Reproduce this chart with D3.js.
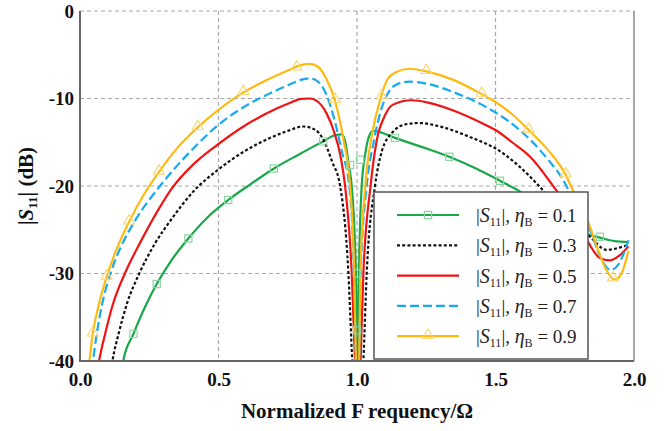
<!DOCTYPE html>
<html>
<head>
<meta charset="utf-8">
<script src="https://cdnjs.cloudflare.com/ajax/libs/d3/7.8.5/d3.min.js"></script>
<style>
  html, body { margin: 0; padding: 0; background: #fff; }
  svg { display: block; }
</style>
</head>
<body>
<div id="chart"></div>
<script>
// values: [normalized frequency, |S11| dB]
const etaValues = [0.1, 0.3, 0.5, 0.7, 0.9];

const s11Eta01 = [
  [0.152,-41],[0.156,-40],[0.193,-36.9],[0.235,-33.8],[0.277,-31.2],[0.33,-28.5],[0.391,-26],[0.46,-23.6],
  [0.535,-21.6],[0.62,-19.7],[0.70,-18],[0.79,-16.4],[0.878,-14.9],[0.92,-14.2],[0.945,-14.1],[0.96,-15.3],
  [0.97,-17.6],[0.981,-20],[0.996,-30],[1.001,-40],[1.002,-46],
  [1.003,-46],[1.004,-40],[1.007,-30],[1.017,-20],[1.03,-16.3],[1.045,-14.2],[1.059,-13.7],[1.137,-14.5],
  [1.23,-15.5],[1.333,-16.65],[1.43,-18],[1.516,-19.4],[1.582,-20.5],[1.7,-23],[1.80,-25],[1.841,-25.6],
  [1.877,-25.9],[1.93,-26.3],[1.98,-26.4]
];
const s11Eta03 = [
  [0.112,-41],[0.117,-40],[0.14,-36.8],[0.17,-33.4],[0.214,-30],[0.27,-26.6],[0.33,-23.8],[0.41,-20.6],
  [0.5,-18.1],[0.59,-16.1],[0.68,-14.6],[0.75,-13.7],[0.806,-13.2],[0.85,-13.6],[0.88,-14.8],[0.91,-17.2],
  [0.939,-20],[0.969,-30],[0.983,-40],[0.995,-46],
  [1.011,-46],[1.023,-40],[1.035,-30],[1.065,-20],[1.09,-16],[1.13,-13.8],[1.17,-13],[1.221,-12.8],
  [1.3,-13.2],[1.4,-14.3],[1.45,-14.95],[1.5,-15.7],[1.58,-17.6],[1.66,-20.1],[1.75,-23.5],[1.841,-25.8],
  [1.9,-27.3],[1.94,-27.1],[1.98,-26.7]
];
const s11Eta05 = [
  [0.064,-41],[0.069,-40],[0.09,-37],[0.12,-33.4],[0.162,-30],[0.22,-26.3],[0.283,-22.7],[0.331,-20.3],
  [0.41,-17.5],[0.5,-15.2],[0.59,-13.2],[0.68,-11.6],[0.75,-10.6],[0.80,-10.05],[0.83,-10],[0.86,-10.4],
  [0.89,-11.7],[0.915,-13.6],[0.94,-16.5],[0.957,-20],[0.981,-30],[0.993,-40],[0.999,-46],
  [1.007,-46],[1.013,-40],[1.023,-30],[1.049,-20],[1.07,-15],[1.1,-12],[1.13,-10.7],[1.197,-10.2],
  [1.26,-10.5],[1.35,-11.4],[1.45,-12.8],[1.5,-13.6],[1.56,-15],[1.625,-16.65],[1.72,-20.5],[1.79,-23.5],
  [1.84,-26.7],[1.875,-28.2],[1.913,-28.5],[1.945,-28],[1.98,-26.9]
];
const s11Eta07 = [
  [0.043,-41],[0.047,-40],[0.06,-37],[0.08,-33.5],[0.11,-30],[0.15,-26.8],[0.2,-23.9],[0.289,-20],
  [0.35,-17.7],[0.425,-15.2],[0.5,-13],[0.59,-11],[0.68,-9.5],[0.75,-8.5],[0.80,-7.85],[0.83,-7.7],[0.86,-8.1],
  [0.89,-9.6],[0.915,-12],[0.945,-16],[0.972,-20],[0.989,-30],[0.996,-40],[1.0,-46],
  [1.004,-46],[1.008,-40],[1.013,-30],[1.035,-20],[1.06,-15],[1.09,-11],[1.12,-9],[1.15,-8.3],[1.19,-8.07],
  [1.25,-8.3],[1.35,-9.3],[1.45,-10.7],[1.5,-11.6],[1.56,-12.9],[1.625,-14.7],[1.69,-17],[1.744,-19.3],
  [1.78,-21.5],[1.841,-25],[1.88,-28.2],[1.916,-29.6],[1.945,-28.9],[1.98,-26.2]
];
const s11Eta09 = [
  [0.030,-41],[0.034,-40],[0.046,-36.9],[0.070,-33.3],[0.096,-30.4],[0.135,-27],[0.177,-24.1],[0.23,-21],
  [0.285,-18.4],[0.35,-15.7],[0.425,-13.3],[0.5,-11.3],[0.59,-9.3],[0.68,-7.8],[0.75,-6.8],[0.80,-6.15],
  [0.83,-6.05],[0.86,-6.4],[0.89,-7.8],[0.92,-10.2],[0.95,-14.5],[0.975,-20],[0.99,-30],[0.996,-40],[1.0,-46],
  [1.004,-46],[1.008,-40],[1.012,-30],[1.03,-20],[1.055,-14],[1.085,-10],[1.11,-7.8],[1.14,-7.0],[1.19,-6.6],
  [1.25,-6.9],[1.35,-7.9],[1.45,-9.5],[1.5,-10.4],[1.56,-11.8],[1.62,-13.6],[1.69,-15.9],[1.753,-18.7],
  [1.781,-20.6],[1.81,-22.4],[1.841,-24.65],[1.87,-27.3],[1.9,-29.6],[1.931,-30.7],[1.955,-30.0],[1.98,-27.4]
];

// marker positions on the two marked series
const squareMarks = [
  [0.193,-36.9],[0.277,-31.2],[0.391,-26],[0.535,-21.6],[0.70,-18],[0.878,-14.9],[0.975,-17.6],
  [1.0,-30],[1.0,-36.5],[1.011,-17.0],[1.137,-14.5],[1.333,-16.65],[1.516,-19.4],[1.877,-25.8]
];
const triangleMarks = [
  [0.046,-36.9],[0.096,-30.4],[0.177,-24.1],[0.285,-18.4],[0.425,-13.3],[0.59,-9.3],[0.782,-6.5],
  [0.92,-10.2],[1.089,-9.8],[1.25,-6.9],[1.45,-9.5],[1.62,-13.6],[1.753,-18.7],[1.924,-30.6]
];

const xTicks = [0, 0.5, 1.0, 1.5, 2.0];
const yTicks = [0, -10, -20, -30, -40];

const FONT = "'Liberation Serif', 'Times New Roman', Times, serif";
const FONT_REGULAR = "'Liberation Serif', Tinos, 'Noto Serif', 'DejaVu Serif', serif";
const width = 664, height = 431;
const margin = { l: 80, r: 30, t: 11, b: 70 };

const x = d3.scaleLinear().domain([0, 2]).range([margin.l, width - margin.r]);
const y = d3.scaleLinear().domain([0, -40]).range([margin.t, height - margin.b]);

const series = [
  { eta: etaValues[0], values: s11Eta01, color: "#18a84a", dash: null, marker: "square", markColor: "#8fd6a4" },
  { eta: etaValues[1], values: s11Eta03, color: "#111", dash: "3,2.2", marker: null },
  { eta: etaValues[2], values: s11Eta05, color: "#f01414", dash: null, marker: null },
  { eta: etaValues[3], values: s11Eta07, color: "#19a9ee", dash: "9,4", marker: null },
  { eta: etaValues[4], values: s11Eta09, color: "#fdbb12", dash: null, marker: "triangle", markColor: "#fdd777" }
];

const svg = d3.select("#chart").append("svg")
  .attr("width", width)
  .attr("height", height)
  .attr("viewBox", `0 0 ${width} ${height}`)
  .style("font-family", FONT);

svg.append("defs").append("clipPath")
  .attr("id", "plot-clip")
  .append("rect")
  .attr("x", x(0)).attr("y", y(0))
  .attr("width", x(2) - x(0)).attr("height", y(-40) - y(0));

// grid
const grid = svg.append("g").attr("class", "grid")
  .attr("stroke", "#a8a8a8").attr("stroke-width", 1.2).attr("stroke-dasharray", "4,3");

grid.selectAll("line.gx").data(xTicks.slice(1, -1)).join("line")
  .attr("class", "gx")
  .attr("x1", d => x(d)).attr("x2", d => x(d))
  .attr("y1", y(0)).attr("y2", y(-40));

grid.selectAll("line.gy").data(yTicks.slice(0, -1)).join("line")
  .attr("class", "gy")
  .attr("x1", x(0)).attr("x2", x(2))
  .attr("y1", d => y(d)).attr("y2", d => y(d));

// right border
svg.append("line")
  .attr("x1", x(2)).attr("x2", x(2)).attr("y1", y(0)).attr("y2", y(-40))
  .attr("stroke", "#8a8a8a").attr("stroke-width", 1.5);

// curves
const line = d3.line()
  .x(d => x(d[0]))
  .y(d => y(d[1]))
  .curve(d3.curveMonotoneX);

const plot = svg.append("g").attr("clip-path", "url(#plot-clip)");

plot.selectAll("path.curve").data(series).join("path")
  .attr("class", "curve")
  .attr("d", d => line(d.values))
  .attr("fill", "none")
  .attr("stroke", d => d.color)
  .attr("stroke-width", 2.2)
  .attr("stroke-dasharray", d => d.dash);

const square = d3.symbol().type(d3.symbolSquare).size(52);
const triangle = d3.symbol().type(d3.symbolTriangle).size(50);

plot.selectAll("path.sq").data(squareMarks).join("path")
  .attr("class", "sq")
  .attr("d", square)
  .attr("transform", d => `translate(${x(d[0])},${y(d[1])})`)
  .attr("fill", "none").attr("stroke", series[0].markColor).attr("stroke-width", 1.2);

plot.selectAll("path.tri").data(triangleMarks).join("path")
  .attr("class", "tri")
  .attr("d", triangle)
  .attr("transform", d => `translate(${x(d[0])},${y(d[1]) - 1})`)
  .attr("fill", "none").attr("stroke", series[4].markColor).attr("stroke-width", 1.2);

// axes
const styleTicks = g => {
  g.select(".domain").remove();
  g.attr("font-family", null).attr("font-size", null);
  g.selectAll("text")
    .style("font-family", FONT)
    .style("font-size", "19px")
    .style("font-weight", "bold")
    .attr("fill", "#111");
};

svg.append("g")
  .attr("transform", `translate(0,${y(-40)})`)
  .call(d3.axisBottom(x).tickValues(xTicks).tickSize(0).tickPadding(12).tickFormat(d3.format(".1f")))
  .call(styleTicks);

svg.append("g")
  .attr("transform", `translate(${x(0)},0)`)
  .call(d3.axisLeft(y).tickValues(yTicks).tickSize(0).tickPadding(6).tickFormat(d => d === 0 ? "0" : "-" + Math.abs(d)))
  .call(styleTicks);

svg.append("path")
  .attr("d", `M${x(0)},${y(0)}V${y(-40)}H${x(2)}`)
  .attr("fill", "none").attr("stroke", "#666").attr("stroke-width", 2);

// axis titles
const xTitle = svg.append("text")
  .attr("x", (x(0) + x(2)) / 2)
  .attr("y", 418)
  .attr("text-anchor", "middle")
  .style("font-family", FONT)
  .style("font-weight", "bold")
  .style("font-size", "21px")
  .attr("fill", "#111");
xTitle.append("tspan").text("Normalized F");
xTitle.append("tspan").attr("dx", 4).text("requency/Ω");

const yTitle = svg.append("text")
  .attr("transform", `translate(33,${(y(0) + y(-40)) / 2}) rotate(-90)`)
  .attr("text-anchor", "middle")
  .style("font-family", FONT)
  .style("font-weight", "bold")
  .style("font-size", "21px")
  .attr("fill", "#111");
yTitle.append("tspan").text("|");
yTitle.append("tspan").style("font-style", "italic").text("S");
yTitle.append("tspan").attr("dy", 4).style("font-size", "13px").text("11");
yTitle.append("tspan").attr("dy", -4).text("| (dB)");

// legend
const legend = svg.append("g").attr("transform", "translate(374,192)");

legend.append("rect")
  .attr("width", 214).attr("height", 167)
  .attr("fill", "#fff").attr("stroke", "#555").attr("stroke-width", 1.5);

const item = legend.selectAll("g.item").data(series).join("g")
  .attr("class", "item")
  .attr("transform", (d, i) => `translate(0,${23 + i * 30.3})`);

item.append("line")
  .attr("x1", 23).attr("x2", 85)
  .attr("stroke", d => d.color)
  .attr("stroke-width", 2.2)
  .attr("stroke-dasharray", d => d.dash);

item.filter(d => d.marker === "square").append("path")
  .attr("d", square)
  .attr("transform", "translate(54,0)")
  .attr("fill", "none").attr("stroke", d => d.markColor).attr("stroke-width", 1.2);

item.filter(d => d.marker === "triangle").append("path")
  .attr("d", triangle)
  .attr("transform", "translate(54,-1)")
  .attr("fill", "none").attr("stroke", d => d.markColor).attr("stroke-width", 1.2);

const label = item.append("text")
  .attr("x", 102).attr("y", 7)
  .style("font-family", FONT_REGULAR)
  .style("font-size", "19px")
  .attr("fill", "#222");

label.append("tspan").text("|");
label.append("tspan").style("font-style", "italic").style("font-family", FONT).style("font-size", "20px").text("S");
label.append("tspan").attr("dy", 4).style("font-size", "12px").text("11");
label.append("tspan").attr("dy", -4).text("|, ");
label.append("tspan").style("font-style", "italic").style("font-family", FONT).style("font-size", "20px").text("η");
label.append("tspan").attr("dy", 4).style("font-size", "12px").text("B");
label.append("tspan").attr("dy", -4).text(d => " = " + d.eta.toFixed(1));
</script>
</body>
</html>
